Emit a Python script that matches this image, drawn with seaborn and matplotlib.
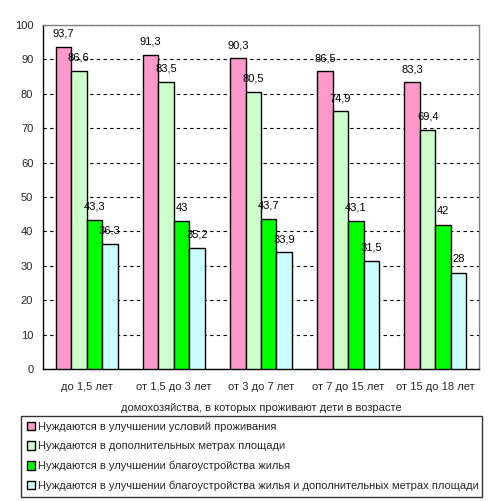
import matplotlib
matplotlib.use("Agg")
import matplotlib.pyplot as plt
import seaborn as sns
import pandas as pd
import numpy as np

categories = ["до 1,5 лет", "от 1,5 до 3 лет", "от 3 до 7 лет", "от 7 до 15 лет", "от 15 до 18 лет"]
series_names = [
    "Нуждаются в улучшении условий проживания",
    "Нуждаются в дополнительных метрах площади",
    "Нуждаются в улучшении благоустройства жилья",
    "Нуждаются в улучшении благоустройства жилья и дополнительных метрах площади",
]
s1 = [93.7, 91.3, 90.3, 86.5, 83.3]
s2 = [86.6, 83.5, 80.5, 74.9, 69.4]
s3 = [43.3, 43.0, 43.7, 43.1, 42.0]
s4 = [36.3, 35.2, 33.9, 31.5, 28.0]
colors = ["#FF99CC", "#CCFFCC", "#00FF00", "#CCFFFF"]
xlabel = "домохозяйства, в которых проживают дети в возрасте"

sns.set_style("white")
plt.rcParams["font.family"] = ["Liberation Sans", "DejaVu Sans"]
plt.rcParams["font.size"] = 8

rows = []
for name, vals in zip(series_names, [s1, s2, s3, s4]):
    for c, v in zip(categories, vals):
        rows.append({"cat": c, "series": name, "value": v})
df = pd.DataFrame(rows)

fig = plt.figure(figsize=(4.94, 5.01), dpi=100)
ax = fig.add_axes([43/494, 1-369/501, (479-43)/494, (369-25)/501])

sns.barplot(data=df, x="cat", y="value", hue="series", order=categories,
            hue_order=series_names, palette=colors, saturation=1, edgecolor="black",
            linewidth=1, width=0.71, errorbar=None, ax=ax, legend=True, zorder=3)

def fmt(v):
    return (f"{v:g}").replace(".", ",")

for cont in ax.containers:
    ax.bar_label(cont, labels=[fmt(b.get_height()) for b in cont], padding=6,
                 fontsize=8, color="black", zorder=4)

ax.set_ylim(0, 100)
ax.set_xlim(-0.5, 4.5)
ax.set_yticks(np.arange(0, 101, 10))
ax.yaxis.grid(True, linestyle=(0, (3, 3)), color="black", linewidth=0.8, zorder=0)
ax.set_axisbelow(True)
ax.tick_params(axis="y", direction="out", length=4, width=1, color="black", pad=3, labelsize=8)
ax.set_xticks(range(5))
ax.set_xticklabels(categories, fontsize=8)
ax.set_xticks(np.arange(-0.5, 5, 1), minor=True)
ax.tick_params(axis="x", which="major", length=0, pad=9)
ax.tick_params(axis="x", which="minor", length=4, width=1, color="black", direction="out")
ax.set_xlabel(xlabel, fontsize=8, labelpad=8)
ax.set_ylabel("")
for s in ["left", "bottom"]:
    ax.spines[s].set_color("black")
    ax.spines[s].set_linewidth(1)
for s in ["top", "right"]:
    ax.spines[s].set_color("#808080")
    ax.spines[s].set_linewidth(1)
    ax.spines[s].set_visible(True)

handles, labels = ax.get_legend_handles_labels()
ax.get_legend().remove()
leg = fig.legend(handles, labels, loc="upper left",
                 bbox_to_anchor=(21/494, 1-416/501, (482-21)/494, 0),
                 mode="expand", ncol=1, frameon=True, fancybox=False,
                 edgecolor="black", fontsize=8, handlelength=0.8,
                 handleheight=0.8, handletextpad=0.25, labelspacing=0.85,
                 borderpad=0.5, borderaxespad=0)
leg.get_frame().set_linewidth(1)

fig.savefig("out.png", dpi=100, facecolor="white")
